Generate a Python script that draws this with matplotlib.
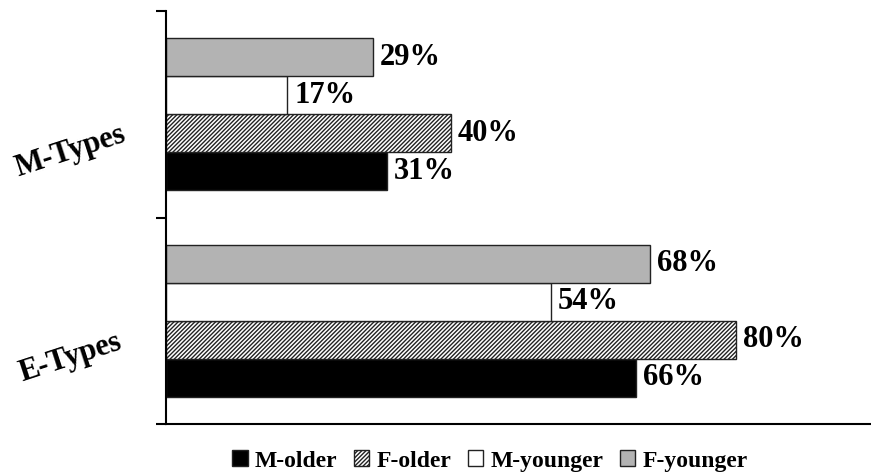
import matplotlib
matplotlib.use("Agg")
import matplotlib.pyplot as plt
import numpy as np
from matplotlib.patches import Patch

categories = ["E-Types", "M-Types"]
series = ["M-older", "F-older", "M-younger", "F-younger"]
m_older = [66, 31]
f_older = [80, 40]
m_younger = [54, 17]
f_younger = [68, 29]

values = [m_older, f_older, m_younger, f_younger]
faces = ["black", "white", "white", "#b3b3b3"]
hatches = [None, "////////", None, None]

plt.rcParams["font.family"] = ["Liberation Serif", "DejaVu Serif"]
plt.rcParams["font.weight"] = "bold"
plt.rcParams["hatch.linewidth"] = 1.0

fig = plt.figure(figsize=(8.71, 4.76), dpi=100)
ax = fig.add_axes([0.1906, 0.1092, 0.8094, 0.8677])

y = np.arange(len(categories))
h = 0.184
for k, (vals, fc, ht) in enumerate(zip(values, faces, hatches)):
    pos = y + (k - 1.5) * h
    bars = ax.barh(pos, vals, height=h, color=fc, edgecolor="#222222",
                   linewidth=1.0, hatch=ht, label=series[k])
    for b, v in zip(bars, vals):
        ax.annotate(f"{v}%", (v, b.get_y() + b.get_height() / 2),
                    xytext=(5, 0), textcoords="offset points",
                    va="center", ha="left", fontsize=22, fontweight="bold")

ax.set_xlim(0, 99)
ax.set_ylim(-0.5, 1.5)
ax.set_xticks([])
ax.set_yticks([-0.5, 0.5, 1.5])
ax.set_yticklabels([])
ax.tick_params(axis="y", direction="out", length=7.5, width=1.5)
for s in ["top", "right"]:
    ax.spines[s].set_visible(False)
ax.spines["left"].set_linewidth(1.5)
ax.spines["bottom"].set_linewidth(1.5)

trans = matplotlib.transforms.blended_transform_factory(ax.transAxes, ax.transData)
for i, c in enumerate(categories):
    ax.text(-0.136, i - 0.18, c, transform=trans, rotation=18,
            rotation_mode="anchor", ha="center", va="center",
            fontsize=22, fontweight="bold")

handles = [Patch(facecolor=fc, edgecolor="#222222", hatch=ht, linewidth=1.0)
           for fc, ht in zip(faces, hatches)]
fig.legend(handles, series, loc="center", bbox_to_anchor=(0.5625, 0.0315),
           ncol=4, frameon=False, handlelength=0.65, handleheight=0.65,
           handletextpad=0.3, columnspacing=0.7,
           prop={"size": 17, "weight": "bold"})

fig.savefig("out.png", dpi=100)
